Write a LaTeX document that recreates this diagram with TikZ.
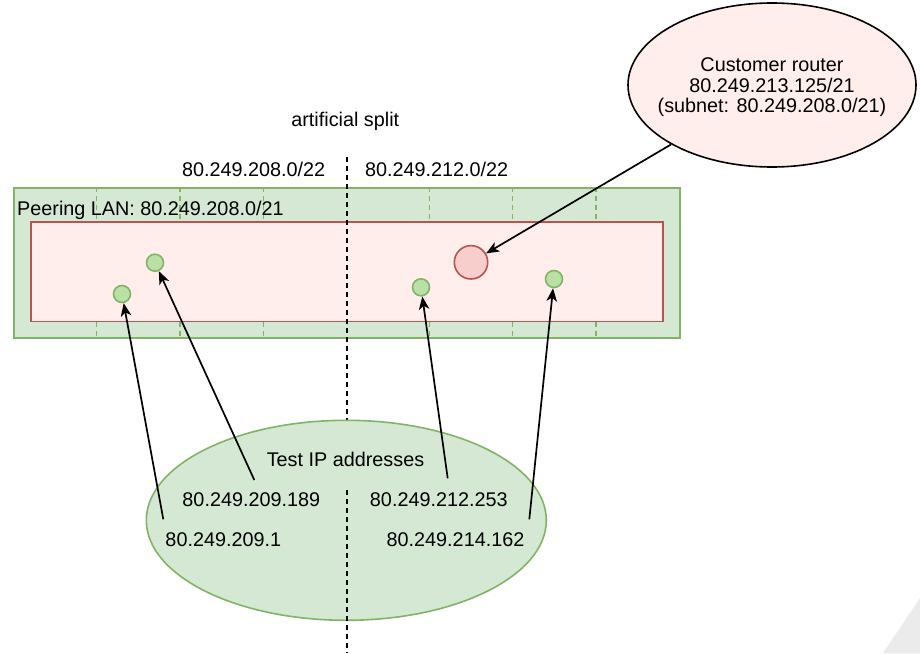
\documentclass[tikz,border=0pt]{standalone}
\usepackage{fontspec}
\setmainfont{Liberation Sans}
\usetikzlibrary{arrows.meta,shapes.geometric}
\definecolor{gfill}{HTML}{D5E8D4}
\definecolor{gstroke}{HTML}{82B366}
\definecolor{gdotfill}{HTML}{B9E0A5}
\definecolor{rfill}{HTML}{FFEEEC}
\definecolor{rstroke}{HTML}{B85450}
\definecolor{rdotfill}{HTML}{F8CECC}
\definecolor{crfill}{HTML}{FFEEEC}
\definecolor{greyshape}{HTML}{EBEBEB}
\tikzset{
  lbl/.style={inner sep=0pt, anchor=base, font=\fontsize{19.8}{20}\selectfont},
  gdot/.style={circle, draw=gstroke, fill=gdotfill, line width=1.6pt, minimum size=17pt, inner sep=0pt},
  arr/.style={-{Stealth[length=13pt,width=10.5pt,inset=3.5pt]}, line width=1.7pt, draw=black},
  gtick/.style={draw=gstroke, line width=1.5pt, dash pattern=on 5pt off 4pt},
  splitline/.style={draw=black, line width=1.7pt, dash pattern=on 4.5pt off 4.5pt},
  boxnode/.style={rectangle, line width=1.6pt, inner sep=0pt, anchor=north west},
}
\begin{document}
\begin{tikzpicture}[x=1pt,y=-1pt]
\useasboundingbox (0,0) rectangle (920,653);
\fill[greyshape] (883,653) -- (920,598) -- (920,653) -- cycle;

% peering LAN
\node[boxnode, draw=gstroke, fill=gfill, minimum width=666pt, minimum height=150pt] (lan) at (13,187) {};
\foreach \x in {96.7,180,263.3,429.3,512.7,596}
  \draw[gtick] (\x,187) -- (\x,337);
\node[boxnode, draw=rstroke, fill=rfill, minimum width=632pt, minimum height=99.7pt] (sub) at (30.3,221) {};

% split line
\coordinate (splittop) at (346.7,157);
\coordinate (splitbot) at (346.7,653);
\coordinate (splitmid) at (346.7,490);
\draw[splitline] (splittop) -- (splitbot);

% labels
\node[lbl] (artsplit) at (345.3,126.7) {artificial split};
\node[lbl] (leftnet) at (253.7,176.7) {80.249.208.0/22};
\node[lbl] (rightnet) at (436.7,176.7) {80.249.212.0/22};
\node[lbl, anchor=base west] (lanlbl) at (17,215.7) {Peering LAN: 80.249.208.0/21};

% dots
\node[gdot] (c1) at (122,294) {};
\node[gdot] (c2) at (155,262.7) {};
\node[gdot] (c3) at (421,287.3) {};
\node[gdot] (c4) at (554,279) {};
\node[circle, draw=rstroke, fill=rdotfill, line width=1.6pt, minimum size=33.4pt, inner sep=0pt] (rc) at (471,262.3) {};

% customer router
\node[ellipse, draw=black, fill=crfill, line width=1.6pt, minimum width=288pt, minimum height=164pt, inner sep=0pt] (cr) at (772,85) {};
\node[inner sep=0pt, align=center, font=\fontsize{19.8}{20.3}\selectfont] (crtext) at (772,87.3) {Customer router\\80.249.213.125/21\\(subnet: 80.249.208.0/21)};

% test ellipse
\node[ellipse, draw=gstroke, fill=gfill, line width=1.6pt, minimum width=400pt, minimum height=200pt, inner sep=0pt] (test) at (346.3,520.3) {};
\draw[splitline] (splitmid) -- (splitbot);
\node[lbl] (testlbl) at (345.5,466.7) {Test IP addresses};
\node[lbl] (ip1) at (251.3,506) {80.249.209.189};
\node[lbl] (ip2) at (438.8,506) {80.249.212.253};
\node[lbl] (ip3) at (223.3,546) {80.249.209.1};
\node[lbl] (ip4) at (455.5,546) {80.249.214.162};

% arrows
\coordinate (a1) at (163.3,519.3);
\coordinate (a2) at (254.3,480);
\coordinate (a3) at (447.7,478.3);
\coordinate (a4) at (529.3,519.3);
\draw[arr] (a1) -- (c1);
\draw[arr] (a2) -- (c2);
\draw[arr] (a3) -- (c3);
\draw[arr] (a4) -- (c4);
\draw[arr] (cr) -- (rc);
\end{tikzpicture}
\end{document}
